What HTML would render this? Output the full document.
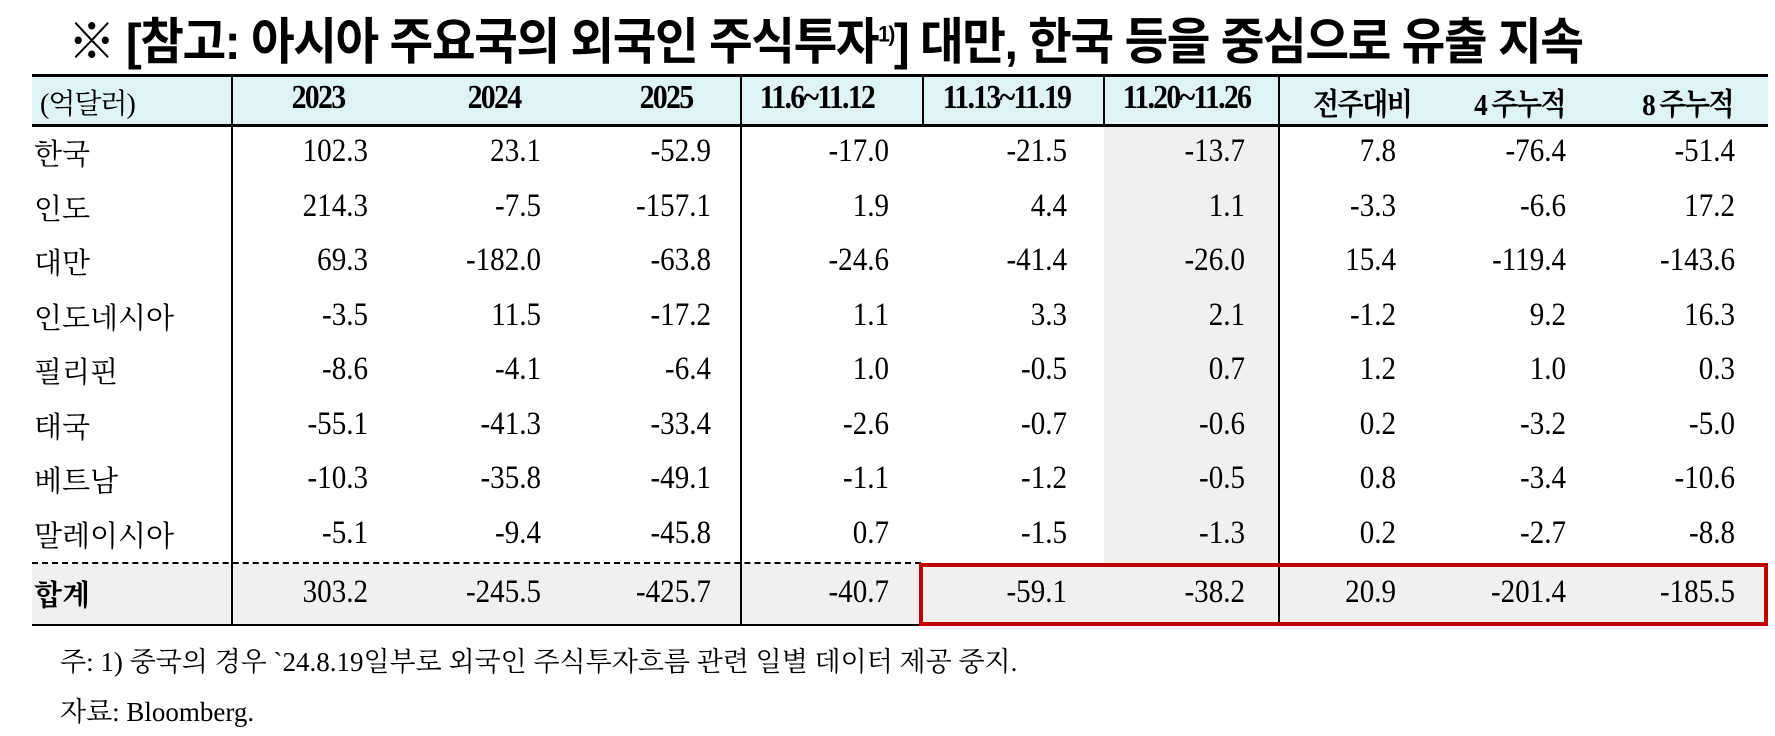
<!DOCTYPE html>
<html><head><meta charset="utf-8"><style>
body{margin:0;width:1775px;height:736px;background:#fff;position:relative;overflow:hidden;font-family:"Liberation Serif","Noto Serif CJK SC",serif;color:#000}
.a{position:absolute;white-space:nowrap}
.t{left:68px;top:2px;font-size:50px;font-weight:bold;font-family:"Liberation Sans","Noto Sans CJK KR",sans-serif;letter-spacing:-1.5px;transform:scaleX(0.95);transform-origin:left}
.h{font-weight:bold;font-size:34px;letter-spacing:-2px;top:79px;transform:scaleX(0.88);transform-origin:center}
.v{font-size:33px;text-align:right;width:160px;transform:scaleX(0.88);transform-origin:right}
.l{font-size:29px;left:34px}
.f{font-size:27px;left:60px;font-family:"Liberation Serif","Noto Serif CJK SC",serif}
.vl{position:absolute;width:2px;background:#000}
</style></head><body>
<div class="a t">※ [참고: 아시아 주요국의 외국인 주식투자<sup style="font-size:22px">1)</sup>] 대만, 한국 등을 중심으로 유출 지속</div>
<div class="a" style="left:32px;top:76px;width:1736px;height:49px;background:#dff3f5"></div>
<div class="a" style="left:1104px;top:125px;width:175px;height:438px;background:#f0f0f0"></div>
<div class="a" style="left:32px;top:563px;width:1736px;height:62px;background:#f0f0f0"></div>
<div class="a" style="left:32px;top:74px;width:1736px;height:3px;background:#000"></div>
<div class="a" style="left:32px;top:124px;width:1736px;height:3px;background:#000"></div>
<div class="a" style="left:32px;top:562px;width:889px;border-top:2px dashed #000"></div>
<div class="a" style="left:32px;top:624px;width:1736px;height:2px;background:#000"></div>
<div class="vl" style="left:231px;top:76px;height:549px"></div>
<div class="vl" style="left:740px;top:76px;height:549px"></div>
<div class="vl" style="left:922px;top:76px;height:49px"></div>
<div class="vl" style="left:1103px;top:76px;height:49px"></div>
<div class="vl" style="left:1278px;top:76px;height:549px"></div>
<div class="a" style="left:919px;top:563px;width:841px;height:55px;border:4px solid #c00000"></div>
<div class="a h" style="left:40px;font-weight:normal;font-size:28px;top:82px;transform:none;letter-spacing:-1px">(억달러)</div>
<div class="a h" style="left:288px">2023</div>
<div class="a h" style="left:464px">2024</div>
<div class="a h" style="left:636px">2025</div>
<div class="a h" style="left:752px">11.6~11.12</div>
<div class="a h" style="left:934px">11.13~11.19</div>
<div class="a h" style="left:1114px">11.20~11.26</div>
<div class="a h" style="left:1306px;font-size:31px">전주대비</div>
<div class="a h" style="left:1468px;font-size:31px">4 주누적</div>
<div class="a h" style="left:1636px;font-size:31px">8 주누적</div>
<div id="rows"></div>
<script>
var d=[["한국","102.3","23.1","-52.9","-17.0","-21.5","-13.7","7.8","-76.4","-51.4"],
["인도","214.3","-7.5","-157.1","1.9","4.4","1.1","-3.3","-6.6","17.2"],
["대만","69.3","-182.0","-63.8","-24.6","-41.4","-26.0","15.4","-119.4","-143.6"],
["인도네시아","-3.5","11.5","-17.2","1.1","3.3","2.1","-1.2","9.2","16.3"],
["필리핀","-8.6","-4.1","-6.4","1.0","-0.5","0.7","1.2","1.0","0.3"],
["태국","-55.1","-41.3","-33.4","-2.6","-0.7","-0.6","0.2","-3.2","-5.0"],
["베트남","-10.3","-35.8","-49.1","-1.1","-1.2","-0.5","0.8","-3.4","-10.6"],
["말레이시아","-5.1","-9.4","-45.8","0.7","-1.5","-1.3","0.2","-2.7","-8.8"],
["합계","303.2","-245.5","-425.7","-40.7","-59.1","-38.2","20.9","-201.4","-185.5"]];
var R=[368,541,711,889,1067,1245,1396,1566,1735],h="";
d.forEach(function(r,i){var y=i<8?132+i*54.5:573;
h+='<div class="a l" style="top:'+y+'px;'+(i==8?'font-weight:bold':'')+'">'+r[0]+'</div>';
for(var j=1;j<10;j++)h+='<div class="a v" style="top:'+(y+1)+'px;left:'+(R[j-1]-160)+'px">'+r[j]+'</div>';});
document.getElementById("rows").innerHTML=h;
</script>
<div class="a f" style="top:640px">주: 1) 중국의 경우 `24.8.19일부로 외국인 주식투자흐름 관련 일별 데이터 제공 중지.</div>
<div class="a f" style="top:690px">자료: Bloomberg.</div>
</body></html>
